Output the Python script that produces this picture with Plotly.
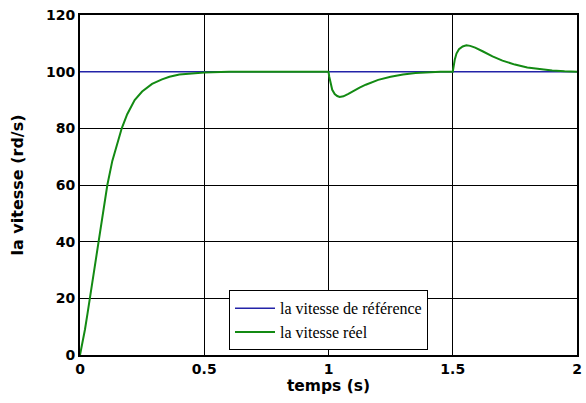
import plotly.graph_objects as go

# time and speed readings
t_ref = [0, 2]
v_ref = [100, 100]

t_real = [0, 0.01, 0.02, 0.03, 0.04, 0.05, 0.06, 0.075, 0.09, 0.11, 0.13, 0.15, 0.168, 0.19,
          0.22, 0.25, 0.29, 0.33, 0.36, 0.4, 0.45, 0.5, 0.6, 0.7, 1.0,
          1.003, 1.008, 1.015, 1.025, 1.035, 1.045, 1.06, 1.08, 1.1, 1.125, 1.15, 1.2, 1.25,
          1.3, 1.35, 1.4, 1.45, 1.5,
          1.503, 1.508, 1.515, 1.525, 1.54, 1.555, 1.57, 1.59, 1.62, 1.66, 1.7, 1.75, 1.8,
          1.85, 1.9, 1.95, 2.0]
v_real = [0, 4, 9, 14.5, 20, 25.5, 31, 40, 49, 60, 68.5, 75, 80, 85,
          90, 93, 95.7, 97.3, 98.2, 99, 99.5, 99.75, 99.95, 100, 100,
          98.2, 95.8, 93.6, 92.1, 91.4, 91.1, 91.3, 92.2, 93.2, 94.4, 95.4, 97.1, 98.2,
          99.0, 99.5, 99.8, 99.95, 100,
          101.8, 104.2, 106.4, 107.9, 108.9, 109.3, 109.1, 108.5, 107.2, 105.4, 103.9, 102.5, 101.5,
          100.9, 100.45, 100.15, 100]

x_ticks = [0, 0.5, 1, 1.5, 2]
x_labels = ["0", "0.5", "1", "1.5", "2"]
y_ticks = [0, 20, 40, 60, 80, 100, 120]

fig = go.Figure()
fig.add_trace(go.Scatter(x=t_ref, y=v_ref, mode="lines", name="la vitesse de référence",
                         line=dict(color="#2323a8", width=1.5)))
fig.add_trace(go.Scatter(x=t_real, y=v_real, mode="lines", name="la vitesse réel",
                         line=dict(color="#138a13", width=2)))

axis_font = dict(family="DejaVu Sans", size=14, color="black")
fig.update_layout(
    width=586, height=403,
    margin=dict(l=80, r=9, t=15, b=48, autoexpand=False),
    paper_bgcolor="white", plot_bgcolor="white",
    showlegend=True,
    legend=dict(x=0.5, y=0.014, xanchor="center", yanchor="bottom",
                bgcolor="white", bordercolor="black", borderwidth=1,
                font=dict(family="Liberation Serif", size=16, color="black"),
                tracegroupgap=0, itemwidth=40),
    xaxis=dict(range=[0, 2], tickvals=x_ticks, ticktext=["<b>%s</b>" % s for s in x_labels],
               showgrid=True, gridcolor="black", gridwidth=1,
               showline=True, linecolor="black", linewidth=2, mirror=True,
               ticks="", tickfont=axis_font, zeroline=False, automargin=False,
               title=dict(text="<b>temps (s)</b>", font=dict(family="DejaVu Sans", size=15.5, color="black"),
                          standoff=2)),
    yaxis=dict(range=[0, 120], tickvals=y_ticks, ticktext=["<b>%d</b>" % v for v in y_ticks],
               showgrid=True, gridcolor="black", gridwidth=1,
               showline=True, linecolor="black", linewidth=2, mirror=True,
               ticks="", tickfont=axis_font, zeroline=False, automargin=False,
               title=dict(text="<b>la vitesse (rd/s)</b>", font=dict(family="DejaVu Sans", size=16, color="black"),
                          standoff=18)),
)

fig.write_html("out.html")
